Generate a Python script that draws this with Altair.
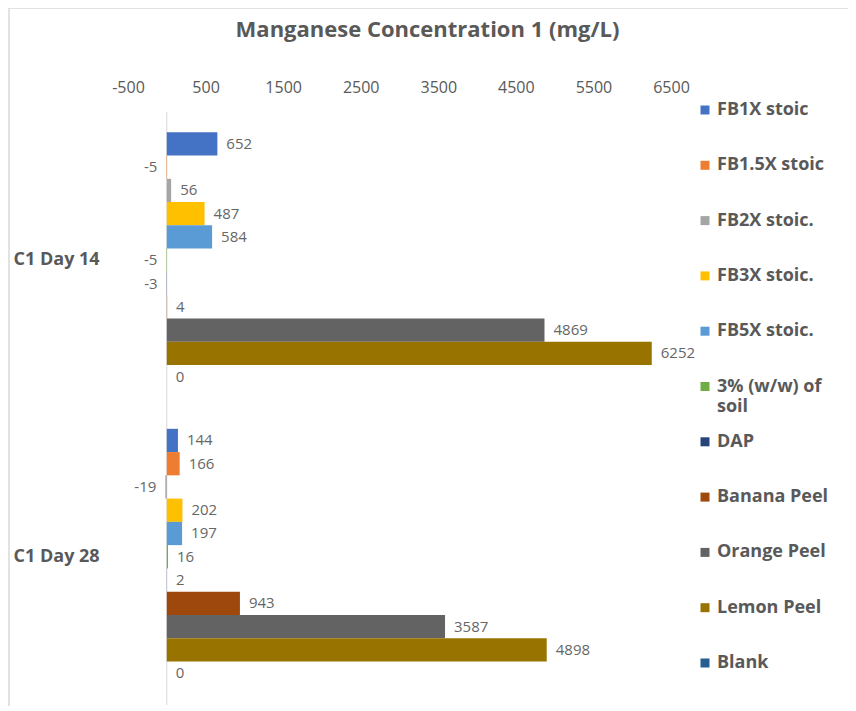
import altair as alt
import pandas as pd

categories = ["C1 Day 14", "C1 Day 28"]
series = ["FB1X stoic", "FB1.5X stoic", "FB2X stoic.", "FB3X stoic.", "FB5X stoic.",
          "3% (w/w) of soil", "DAP", "Banana Peel", "Orange Peel", "Lemon Peel", "Blank"]
legend_text = ["FB1X stoic", "FB1.5X stoic", "FB2X stoic.", "FB3X stoic.", "FB5X stoic.",
               "3% (w/w) of\nsoil", "DAP", "Banana Peel", "Orange Peel", "Lemon Peel", "Blank"]
day14 = [652, -5, 56, 487, 584, -5, -3, 4, 4869, 6252, 0]
day28 = [144, 166, -19, 202, 197, 16, 2, 943, 3587, 4898, 0]
colors = ["#4472C4", "#ED7D31", "#A5A5A5", "#FFC000", "#5B9BD5", "#70AD47",
          "#264478", "#9E480E", "#636363", "#997300", "#255E91"]
x_ticks = [-500, 500, 1500, 2500, 3500, 4500, 5500, 6500]

rows = []
for cat, vals in zip(categories, [day14, day28]):
    for s, v in zip(series, vals):
        rows.append({"cat": cat, "series": s, "value": v, "label": str(v)})
df = pd.DataFrame(rows)

legend_df = pd.DataFrame({"series": series, "text": legend_text,
                          "idx": list(range(len(series)))})

FONT = "Open Sans"
GREY = "#595959"

xscale = alt.Scale(domain=[-500, 6500], nice=False, zero=False)
cscale = alt.Scale(domain=series, range=colors)

y_enc = alt.Y("cat:N", sort=categories,
              scale=alt.Scale(paddingInner=0.137, paddingOuter=0.0685),
              axis=alt.Axis(title=None, domain=False, ticks=False, tickSize=0,
                            labelAlign="left", labelPadding=115,
                            labelFont=FONT, labelFontSize=18, labelFontWeight="bold",
                            labelColor=GREY))
yoff_enc = alt.YOffset("series:N", sort=series,
                       scale=alt.Scale(paddingInner=0, paddingOuter=0))

base = alt.Chart(df).encode(y=y_enc, yOffset=yoff_enc)

bars = base.mark_bar().encode(
    x=alt.X("value:Q", scale=xscale,
            axis=alt.Axis(orient="top", values=x_ticks, title=None, grid=False,
                          domain=False, ticks=False, tickSize=0, labelPadding=17,
                          labelFont=FONT, labelFontSize=16, labelColor=GREY,
                          labelFlush=False, labelExpr="'' + datum.value")),
    color=alt.Color("series:N", sort=series, scale=cscale, legend=None),
)

pos_labels = base.mark_text(align="left", dx=9, font=FONT, fontSize=15, color="#666666").encode(
    x=alt.X("value:Q", scale=xscale), text=alt.Text("label:N")
).transform_filter("datum.value >= 0")

neg_labels = base.mark_text(align="right", dx=-9, font=FONT, fontSize=15, color="#666666").encode(
    x=alt.X("value:Q", scale=xscale), text=alt.Text("label:N")
).transform_filter("datum.value < 0")

zero_rule = alt.Chart(pd.DataFrame({"z": [0]})).mark_rule(color="#D9D9D9", strokeWidth=1).encode(
    x=alt.X("z:Q", scale=xscale)
)

frame = alt.Chart(pd.DataFrame({"f": [0]})).mark_rect(
    fill="transparent", stroke="#D9D9D9", strokeWidth=1.5
).encode(x=alt.value(-119), x2=alt.value(760), y=alt.value(-104), y2=alt.value(597))

main = alt.layer(zero_rule, bars, pos_labels, neg_labels)

ly = alt.Y("idx:Q", scale=alt.Scale(domain=[0, 10], range=[-2, 551]), axis=None)
leg_sym = alt.Chart(legend_df).mark_square(size=81, opacity=1).encode(
    x=alt.value(577), y=ly,
    color=alt.Color("series:N", sort=series, scale=cscale, legend=None),
)
leg_txt = alt.Chart(legend_df).mark_text(
    align="left", baseline="middle", lineBreak="\n", lineHeight=20,
    font=FONT, fontSize=18, fontWeight="bold", color=GREY
).encode(x=alt.value(589), y=ly, text="text:N")
legend = alt.layer(leg_sym, leg_txt)

chart = alt.layer(frame, main, legend).resolve_scale(y="independent").properties(
    width=543, height=593,
    autosize=alt.AutoSizeParams(type="none"),
    padding={"left": 120, "top": 104, "right": 177, "bottom": 1},
    title=alt.Title("Manganese Concentration 1 (mg/L)", font=FONT, fontSize=22,
                    fontWeight="bold", color=GREY, dx=28, offset=-35),
).configure(background="white", view=alt.ViewConfig(stroke=None))

chart.save("out.html", embed_options={"renderer": "svg", "actions": False})
